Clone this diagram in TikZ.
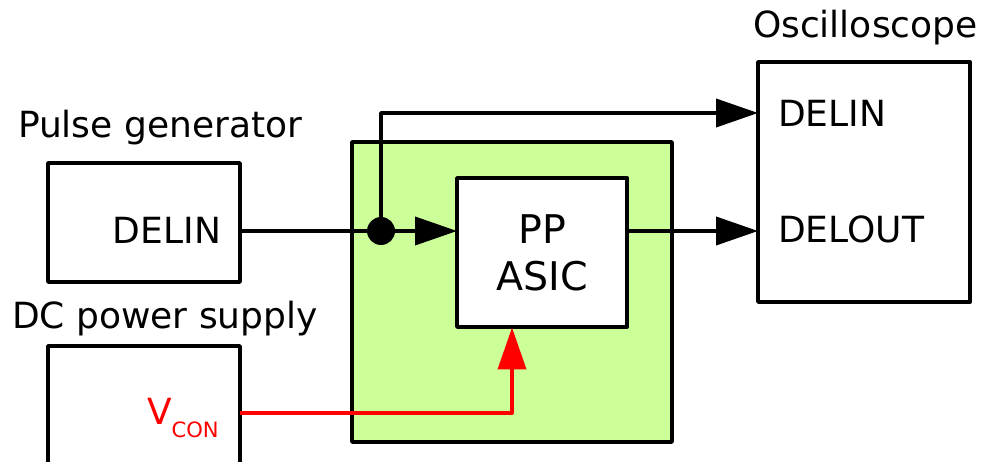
\documentclass[tikz,border=0pt]{standalone}
\usepackage{fontspec}
\setmainfont{DejaVu Sans}
\usetikzlibrary{arrows.meta,positioning}
\definecolor{boardgreen}{HTML}{CCFF99}
\definecolor{signalred}{HTML}{FF0000}

\begin{document}
\begin{tikzpicture}[x=0.02cm,y=-0.02cm,
    every node/.style={inner sep=0pt,outer sep=0pt},
    unitbox/.style={draw=black,line width=2.2pt,line join=round,rectangle},
    wire/.style={line width=2.2pt,line join=round},
    tip/.style={-{Triangle[length=0.84cm,width=0.56cm]}},
    lbl/.style={font=\fontsize{20.5}{24}\selectfont}]
    \useasboundingbox (0,0) rectangle (982,462);
    \clip (0,0) rectangle (982,462);
    \node[unitbox,fill=boardgreen,minimum width=6.4cm,minimum height=6cm]
      (board) at (512,292) {};
    \node[unitbox,fill=white,minimum width=3.4cm,minimum height=2.98cm,
      align=center,font=\fontsize{22.5}{26.7}\selectfont] (asic) at (542,252.5) {PP\\ASIC};
    \node[unitbox,minimum width=3.84cm,minimum height=2.38cm] (pulsegen) at (144,222.5) {};
    \node[unitbox,minimum width=3.84cm,minimum height=2.48cm] (dcsupply) at (144,408) {};
    \node[unitbox,minimum width=4.24cm,minimum height=4.8cm] (scope) at (864,182) {};
    \node[lbl,anchor=base west] (pulselabel) at (18,138) {Pulse generator};
    \node[lbl,anchor=base west] (dclabel) at (12,328) {DC power supply};
    \node[lbl,anchor=base west] (scopelabel) at (753,38) {Oscilloscope};
    \node[lbl,anchor=base east] (pulseout) at (221,243) {DELIN};
    \node[lbl,anchor=base west] (scopein) at (778,127) {DELIN};
    \node[lbl,anchor=base west] (scopeout) at (778,242) {DELOUT};
    \node[lbl,anchor=base west,text=signalred] (vcon) at (147,424)
      {V\raisebox{-0.26cm}{\fontsize{12}{12}\selectfont CON}};
    \coordinate (split) at (381,231);
    \coordinate (tapTop) at (381,113);
    \coordinate (vconRail) at (240,413);
    \coordinate (vconIn) at (512,327.5);
    \draw[wire] (pulsegen.east |- split) -- (split);
    \draw[wire,tip] (split) -- (asic.west |- split);
    \draw[wire,tip] (split) -- (tapTop) -- (scope.west |- tapTop);
    \draw[wire,tip] (asic.east |- split) -- (scope.west |- split);
    \draw[wire,signalred,tip] (dcsupply.east |- vconRail) -| (vconIn);
    \fill (split) circle (0.28cm);
  \end{tikzpicture}
\end{document}
